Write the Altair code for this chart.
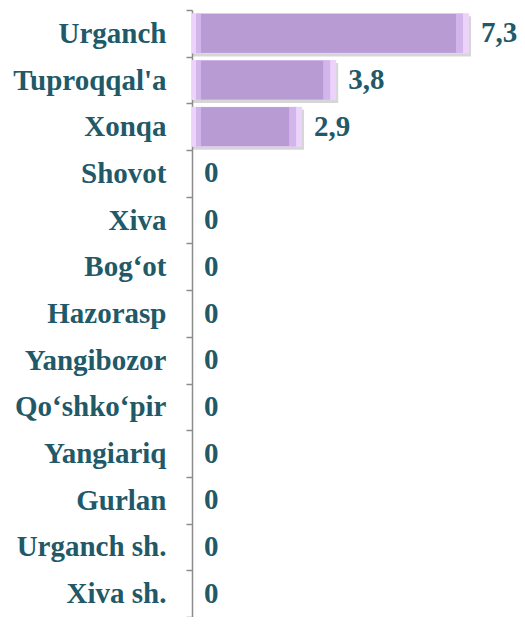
import altair as alt
import pandas as pd

categories = ["Urganch", "Tuproqqal'a", "Xonqa", "Shovot", "Xiva", "Bog‘ot",
              "Hazorasp", "Yangibozor", "Qo‘shko‘pir", "Yangiariq", "Gurlan",
              "Urganch sh.", "Xiva sh."]
values = [7.3, 3.8, 2.9, 0, 0, 0, 0, 0, 0, 0, 0, 0, 0]

labels = [("%g" % v).replace(".", ",") for v in values]
df = pd.DataFrame({"cat": categories, "v": values, "lbl": labels})

TXT = "#215968"
FONT = "Liberation Serif"
FS = 29

y = alt.Y("cat:N", sort=categories, title=None,
          scale=alt.Scale(paddingInner=0, paddingOuter=0),
          axis=alt.Axis(labelFont=FONT, labelFontWeight="bold", labelFontSize=FS,
                        labelColor=TXT, labelPadding=20, tickBand="extent",
                        tickSize=6, tickColor="#8c8c8c", domainColor="#8c8c8c",
                        domainWidth=1.5, tickWidth=1.5, labelLimit=300))
x = alt.X("v:Q", title=None, scale=alt.Scale(domain=[0, 7.3], nice=False, zero=True),
          axis=None)

base = alt.Chart(df)
bars_df = base.transform_filter("datum.v > 0")

shadow = bars_df.mark_bar(color="#8a8a8a", opacity=0.35, height={"band": 0.86},
                          yOffset=3, xOffset=2).encode(x=x, x2=alt.datum(0), y=y)
light = bars_df.mark_bar(color="#EBD3FA", height={"band": 0.86}).encode(
    x=x, x2=alt.datum(0), y=y)
mid = bars_df.mark_bar(color="#D2B5EA", height={"band": 0.845},
                       xOffset=-6, x2Offset=4).encode(x=x, x2=alt.datum(0), y=y)
main = bars_df.mark_bar(color="#B99BD3", height={"band": 0.83},
                        xOffset=-13, x2Offset=9).encode(x=x, x2=alt.datum(0), y=y)
text = base.mark_text(align="left", baseline="middle", dx=12, font=FONT,
                      fontWeight="bold", fontSize=FS, color=TXT).encode(
    x=x, y=y, text="lbl:N")

chart = alt.layer(shadow, light, mid, main, text).properties(
    width=277, height=607,
    padding={"left": 184, "top": 2, "right": 48, "bottom": 0},
    autosize=alt.AutoSizeParams(type="none"),
).configure_view(stroke=None)

chart.save("out.html", embed_options={"renderer": "svg", "actions": False})
